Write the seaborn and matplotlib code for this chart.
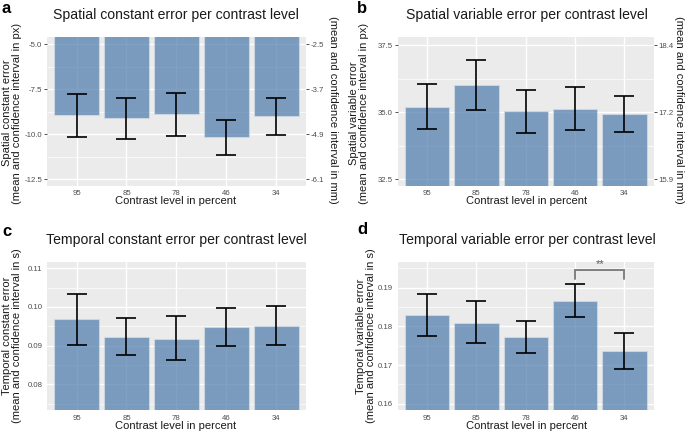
import numpy as np
import pandas as pd
import matplotlib
matplotlib.use("Agg")
import matplotlib.pyplot as plt
import seaborn as sns
from matplotlib.ticker import AutoMinorLocator

# contrast levels in percent, in the order they are plotted
contrast = ['95', '85', '78', '46', '34']

# a: spatial constant error (px)
sce_mean = [-8.93, -9.11, -8.89, -10.17, -9.00]
sce_lo = [-10.13, -10.28, -10.11, -11.15, -10.02]
sce_hi = [-7.74, -7.96, -7.70, -9.20, -7.96]

# b: spatial variable error (px)
sve_mean = [35.20, 36.02, 35.04, 35.12, 34.91]
sve_lo = [34.37, 35.09, 34.23, 34.33, 34.27]
sve_hi = [36.05, 36.95, 35.84, 35.95, 35.60]

# c: temporal constant error (s)
tce_mean = [0.0968, 0.0923, 0.0918, 0.0948, 0.0952]
tce_lo = [0.0903, 0.0875, 0.0862, 0.0899, 0.0903]
tce_hi = [0.1033, 0.0972, 0.0977, 0.0997, 0.1002]

# d: temporal variable error (s)
tve_mean = [0.1829, 0.1809, 0.1773, 0.1866, 0.1737]
tve_lo = [0.1776, 0.1756, 0.1732, 0.1823, 0.1691]
tve_hi = [0.1884, 0.1865, 0.1814, 0.1909, 0.1784]

# tick labels of the left axes and the mm axes on the right
sce_ticks = [-12.5, -10.0, -7.5, -5.0]
sce_mm_labels = ['-6.1', '-4.9', '-3.7', '-2.5']
sve_ticks = [32.5, 35.0, 37.5]
sve_mm_labels = ['15.9', '17.2', '18.4']
tce_ticks = [0.08, 0.09, 0.10, 0.11]
tve_ticks = [0.16, 0.17, 0.18, 0.19]

sns.set_theme(style='darkgrid', rc={
    'axes.facecolor': '#EBEBEB',
    'grid.color': 'white',
    'grid.linewidth': 1.0,
    'xtick.color': '#333333',
    'ytick.color': '#333333',
    'xtick.labelcolor': '#4D4D4D',
    'ytick.labelcolor': '#4D4D4D',
})
plt.rcParams['font.family'] = ['Liberation Sans', 'DejaVu Sans']

W, H = 685, 432
fig = plt.figure(figsize=(W / 100, H / 100), dpi=100)


def px_axes(x0, y0, x1, y1):
    return fig.add_axes([x0 / W, 1 - y1 / H, (x1 - x0) / W, (y1 - y0) / H])


bar_color = '#4a7aac'
tick_kw = dict(length=2, width=0.6, labelsize=5.6, pad=1.2)


def panel(ax, mean, lo, hi, ylim, ticks, ticklabels):
    df = pd.DataFrame({'contrast': contrast, 'mean': mean})
    sns.barplot(data=df, x='contrast', y='mean', order=contrast, color=bar_color,
                saturation=1, alpha=0.7, width=0.9, errorbar=None,
                edgecolor='#d5dde6', linewidth=0.8, ax=ax)
    m = np.array(mean)
    ax.errorbar(np.arange(len(contrast)), m, yerr=[m - np.array(lo), np.array(hi) - m],
                fmt='none', ecolor='black', elinewidth=1.2, capsize=7.5, capthick=1.2,
                zorder=5)
    ax.set_xlim(-0.6, 4.6)
    ax.set_ylim(*ylim)
    ax.set_yticks(ticks)
    ax.set_yticklabels(ticklabels)
    ax.yaxis.set_minor_locator(AutoMinorLocator(2))
    ax.grid(which='minor', axis='y', color='white', linewidth=0.5)
    ax.grid(which='major', color='white', linewidth=1.0)
    ax.set_axisbelow(True)
    ax.set_xlabel('')
    ax.set_ylabel('')
    ax.tick_params(axis='both', which='major', **tick_kw)
    ax.tick_params(axis='y', which='minor', length=0)
    for s in ax.spines.values():
        s.set_visible(False)


def mm_axis(ax, ticks, labels):
    ax2 = ax.twinx()
    ax2.set_ylim(ax.get_ylim())
    ax2.set_yticks(ticks)
    ax2.set_yticklabels(labels)
    ax2.grid(False)
    ax2.tick_params(axis='y', **tick_kw)
    for s in ax2.spines.values():
        s.set_visible(False)
    return ax2


ax_a = px_axes(46.7, 37.3, 306, 185.7)
ax_b = px_axes(397.5, 37.3, 654, 185.7)
ax_c = px_axes(46.7, 261.7, 306, 410.3)
ax_d = px_axes(397.5, 261.7, 654, 410.3)

panel(ax_a, sce_mean, sce_lo, sce_hi, (-12.85, -4.61), sce_ticks,
      ['%.1f' % t for t in sce_ticks])
mm_axis(ax_a, sce_ticks, sce_mm_labels)
panel(ax_b, sve_mean, sve_lo, sve_hi, (32.25, 37.79), sve_ticks,
      ['%.1f' % t for t in sve_ticks])
mm_axis(ax_b, sve_ticks, sve_mm_labels)
panel(ax_c, tce_mean, tce_lo, tce_hi, (0.0733, 0.1117), tce_ticks,
      ['%.2f' % t for t in tce_ticks])
panel(ax_d, tve_mean, tve_lo, tve_hi, (0.1583, 0.1967), tve_ticks,
      ['%.2f' % t for t in tve_ticks])

# significance bracket between 46 and 34 in panel d
ax_d.plot([3, 3, 4, 4], [0.1922, 0.1946, 0.1946, 0.1922], color='#808080', lw=1.4,
          zorder=6, solid_joinstyle='miter')
ax_d.text(3.5, 0.1948, '**', ha='center', va='bottom', fontsize=8, color='#555555')

title_kw = dict(ha='center', va='center', fontsize=10.1, color='#1a1a1a')
fig.text(176 / W, 1 - 15 / H, 'Spatial constant error per contrast level', **title_kw)
fig.text(527 / W, 1 - 15 / H, 'Spatial variable error per contrast level', **title_kw)
fig.text(176 / W, 1 - 240 / H, 'Temporal constant error per contrast level', **title_kw)
fig.text(527 / W, 1 - 240 / H, 'Temporal variable error per contrast level', **title_kw)

lab_kw = dict(ha='center', va='center', fontsize=8, color='#1a1a1a')
fig.text(176 / W, 1 - 201 / H, 'Contrast level in percent', **lab_kw)
fig.text(527 / W, 1 - 201 / H, 'Contrast level in percent', **lab_kw)
fig.text(176 / W, 1 - 426 / H, 'Contrast level in percent', **lab_kw)
fig.text(527 / W, 1 - 426 / H, 'Contrast level in percent', **lab_kw)

ylab_kw = dict(ha='center', va='center', rotation=90, multialignment='center',
               fontsize=8, color='#1a1a1a', linespacing=1.0)
fig.text(12 / W, 1 - 113 / H,
         'Spatial constant error\n(mean and confidence interval in px)', **ylab_kw)
fig.text(359 / W, 1 - 113 / H,
         'Spatial variable error\n(mean and confidence interval in px)', **ylab_kw)
fig.text(12 / W, 1 - 336 / H,
         'Temporal constant error\n(mean and confidence interval in s)', **ylab_kw)
fig.text(366 / W, 1 - 336 / H,
         'Temporal variable error\n(mean and confidence interval in s)', **ylab_kw)

rlab_kw = dict(ha='center', va='center', rotation=-90, fontsize=8, color='#1a1a1a')
fig.text(333 / W, 1 - 110 / H, '(mean and confidence interval in mm)', **rlab_kw)
fig.text(679.5 / W, 1 - 110 / H, '(mean and confidence interval in mm)', **rlab_kw)

let_kw = dict(ha='left', va='top', fontsize=12, fontweight='bold', color='black')
fig.text(2 / W, 1 - 1 / H, 'a', **let_kw)
fig.text(357 / W, 1 - 1 / H, 'b', **let_kw)
fig.text(2 / W, 1 - 224 / H, 'c', **let_kw)
fig.text(357 / W, 1 - 222 / H, 'd', **let_kw)

fig.savefig('out.png', dpi=100)
